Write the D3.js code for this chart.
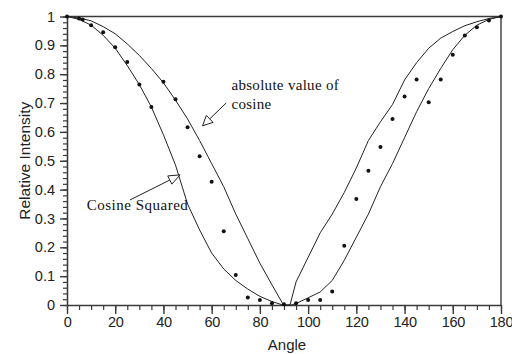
<!DOCTYPE html>
<html>
<head>
<meta charset="utf-8">
<script src="https://cdn.jsdelivr.net/npm/d3@7"></script>
<style>
  html, body { margin: 0; padding: 0; background: #fff; }
  svg { display: block; }
  .tick text { font-family: "Liberation Sans", Arial, sans-serif; font-size: 14.5px; fill: #222; }
</style>
</head>
<body>
<svg id="chart" width="512" height="354"></svg>
<script>
// ---- data ----
const xTicks = [0, 20, 40, 60, 80, 100, 120, 140, 160, 180];
const yTicks = [0, 0.1, 0.2, 0.3, 0.4, 0.5, 0.6, 0.7, 0.8, 0.9, 1];

// measured points
const measAngle = [0, 5, 6.5, 10, 15, 20, 25, 30, 35, 40, 45, 50, 55, 60, 65, 70, 75, 80, 85, 90,
                   95, 100, 105, 110, 115, 120, 125, 130, 135, 140, 145, 150, 155, 160, 165, 170, 175, 180];
const measValue = [1.0, 0.993, 0.99, 0.97, 0.945, 0.893, 0.842, 0.764, 0.686, 0.774, 0.713, 0.616, 0.516, 0.427, 0.256, 0.104, 0.026, 0.017, 0.006, 0.003,
                   0.006, 0.017, 0.017, 0.047, 0.205, 0.367, 0.465, 0.548, 0.645, 0.723, 0.782, 0.703, 0.782, 0.867, 0.934, 0.963, 0.986, 1.0];

// "absolute value of cosine" curve
const absCosAngle = [0, 5, 10, 15, 20, 25, 30, 35, 40, 45, 50, 55, 60, 65, 70, 75, 80, 85, 89.8,
                     92.5, 95, 100, 105, 110, 115, 120, 125, 130, 135, 140, 145, 150, 155, 160, 165, 170, 175, 180];
const absCosValue = [1.0, 0.995, 0.985, 0.965, 0.94, 0.905, 0.865, 0.82, 0.77, 0.71, 0.645, 0.57, 0.49, 0.41, 0.315, 0.23, 0.145, 0.07, 0.0,
                     0.0, 0.08, 0.165, 0.25, 0.315, 0.39, 0.475, 0.57, 0.635, 0.695, 0.78, 0.84, 0.89, 0.925, 0.948, 0.968, 0.982, 0.993, 1.0];

// "Cosine Squared" curve
const cosSqAngle = [0, 5, 10, 15, 20, 25, 30, 35, 40, 45, 50, 55, 60, 65, 70, 75, 80, 85, 89.5,
                    93, 95, 100, 105, 110, 115, 120, 125, 130, 135, 140, 145, 150, 155, 160, 165, 170, 175, 180];
const cosSqValue = [1.0, 0.99, 0.97, 0.935, 0.89, 0.83, 0.764, 0.686, 0.59, 0.485, 0.35, 0.26, 0.18, 0.125, 0.085, 0.055, 0.03, 0.012, 0.0,
                    0.0, 0.005, 0.025, 0.045, 0.085, 0.155, 0.235, 0.315, 0.41, 0.49, 0.58, 0.67, 0.75, 0.82, 0.885, 0.935, 0.97, 0.99, 1.0];

// ---- layout ----
const svg = d3.select("#chart");
const plotL = 67, plotR = 501, plotT = 16.5, plotB = 305;
const x = d3.scaleLinear().domain([0, 180]).range([plotL, plotR]);
const y = d3.scaleLinear().domain([0, 1]).range([plotB, plotT]);
const axisColor = "#3a3a3a";

// frame top & right
svg.append("line").attr("x1", plotL).attr("x2", plotR).attr("y1", y(1)).attr("y2", y(1))
  .attr("stroke", axisColor).attr("stroke-width", 1.4);
svg.append("line").attr("x1", plotR).attr("x2", plotR).attr("y1", y(1)).attr("y2", y(0))
  .attr("stroke", axisColor).attr("stroke-width", 1.4);

// minor ticks
svg.append("g").attr("transform", `translate(${plotL},0)`)
  .call(d3.axisLeft(y).tickValues(d3.range(0, 51).map(i => i / 50)).tickSize(4).tickSizeOuter(0).tickFormat(""))
  .call(g => g.selectAll("line,path").attr("stroke", axisColor).attr("stroke-width", 1.2));
svg.append("g").attr("transform", `translate(0,${plotB})`)
  .call(d3.axisBottom(x).tickValues(d3.range(0, 37).map(i => i * 5)).tickSize(5).tickSizeOuter(0).tickFormat(""))
  .call(g => g.selectAll("line,path").attr("stroke", axisColor).attr("stroke-width", 1.2));

// major ticks + labels
svg.append("g").attr("transform", `translate(${plotL},0)`)
  .call(d3.axisLeft(y).tickValues(yTicks).tickSize(7).tickSizeOuter(0).tickPadding(5)
        .tickFormat(d => d === 0 ? "0" : d === 1 ? "1" : d.toFixed(1)))
  .call(g => g.selectAll("line,path").attr("stroke", axisColor).attr("stroke-width", 1.4));
svg.append("g").attr("transform", `translate(0,${plotB})`)
  .call(d3.axisBottom(x).tickValues(xTicks).tickSize(9).tickSizeOuter(0).tickPadding(3))
  .call(g => g.selectAll("line,path").attr("stroke", axisColor).attr("stroke-width", 1.4))
  .call(g => g.selectAll(".tick text").attr("letter-spacing", -0.3));

// axis titles
svg.append("text").attr("x", (plotL + plotR) / 2 + 3).attr("y", 350)
  .attr("text-anchor", "middle").attr("font-family", "Liberation Sans, Arial, sans-serif")
  .attr("font-size", 15).attr("fill", "#222").text("Angle");
svg.append("text").attr("transform", `translate(30,${(plotT + plotB) / 2}) rotate(-90)`)
  .attr("text-anchor", "middle").attr("font-family", "Liberation Sans, Arial, sans-serif")
  .attr("font-size", 15.5).attr("fill", "#222").text("Relative Intensity");

// curves
const line = d3.line().x(d => x(d[0])).y(d => y(d[1]));
svg.append("path").datum(d3.zip(absCosAngle, absCosValue)).attr("d", line)
  .attr("fill", "none").attr("stroke", "#222").attr("stroke-width", 1);
svg.append("path").datum(d3.zip(cosSqAngle, cosSqValue)).attr("d", line)
  .attr("fill", "none").attr("stroke", "#222").attr("stroke-width", 1);

// measured points
svg.append("g").selectAll("circle").data(d3.zip(measAngle, measValue)).join("circle")
  .attr("cx", d => x(d[0])).attr("cy", d => y(d[1])).attr("r", 2)
  .attr("fill", "#111");

// annotations (positioned in data units)
function arrow(tail, tip, len, halfW) {
  const tx = x(tip[0]), ty = y(tip[1]);
  const sx = x(tail[0]), sy = y(tail[1]);
  const dx = tx - sx, dy = ty - sy, L = Math.hypot(dx, dy);
  const ux = dx / L, uy = dy / L;
  const bx = tx - ux * len, by = ty - uy * len;
  const px = -uy, py = ux;
  svg.append("line").attr("x1", sx).attr("y1", sy).attr("x2", bx).attr("y2", by)
    .attr("stroke", "#222").attr("stroke-width", 1);
  svg.append("polygon")
    .attr("points", [[tx, ty], [bx + px * halfW, by + py * halfW], [bx - px * halfW, by - py * halfW]].map(p => p.join(",")).join(" "))
    .attr("fill", "#fff").attr("stroke", "#222").attr("stroke-width", 1);
}
arrow([66, 0.70], [56.2, 0.621], 10, 4.8);
arrow([26.1, 0.364], [46.9, 0.451], 11.5, 4.6);

const serif = "Liberation Serif, Times New Roman, serif";
svg.append("text").attr("x", x(68.2)).attr("y", y(0.745)).attr("font-family", serif)
  .attr("font-size", 15).attr("letter-spacing", 0.3).attr("fill", "#111").text("absolute value of");
svg.append("text").attr("x", x(68.2)).attr("y", y(0.678)).attr("font-family", serif)
  .attr("font-size", 15).attr("letter-spacing", 0.3).attr("fill", "#111").text("cosine");
svg.append("text").attr("x", x(8.2)).attr("y", y(0.33)).attr("font-family", serif)
  .attr("font-size", 15).attr("letter-spacing", 0.5).attr("fill", "#111").text("Cosine Squared");
</script>
</body>
</html>
